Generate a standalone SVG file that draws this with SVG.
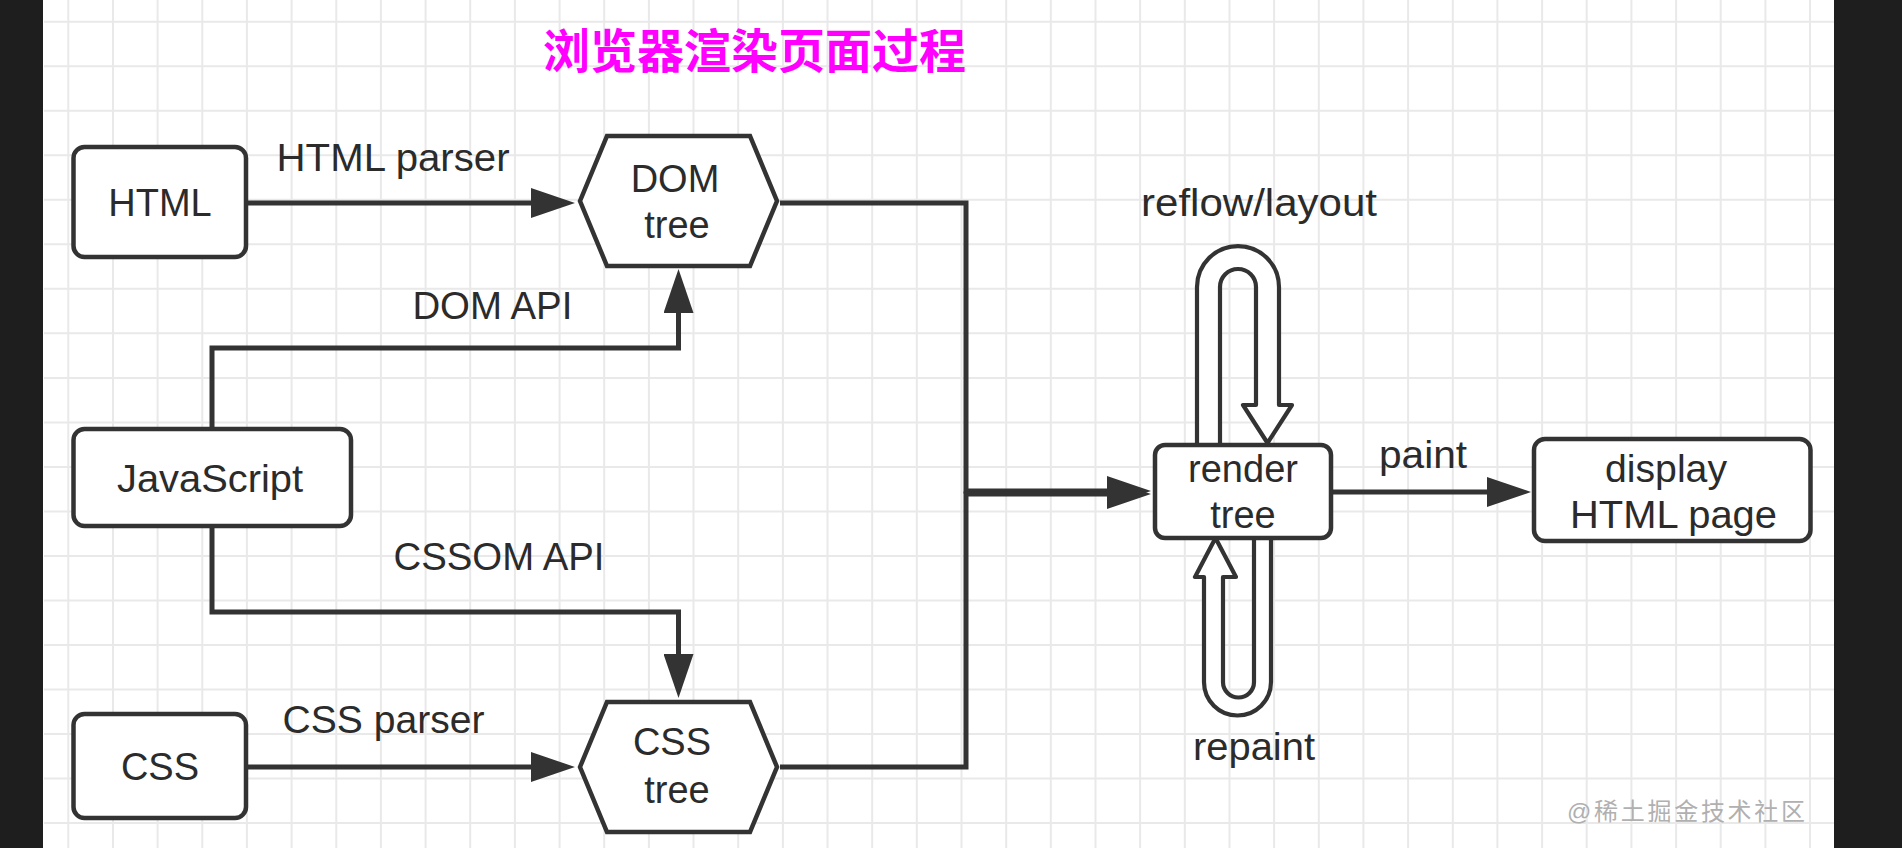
<svg xmlns="http://www.w3.org/2000/svg" width="1902" height="848" viewBox="0 0 1902 848">
<style>
.grid{stroke:#e9e9e9;stroke-width:2;fill:none}
.box{fill:#fff;stroke:#333;stroke-width:4.5}
.loop{fill:#fff;stroke:#333;stroke-width:4.2;stroke-linejoin:round}
.edge{fill:none;stroke:#333;stroke-width:5}
.t{font-family:"Liberation Sans",Arial,sans-serif;font-size:38px;fill:#2b2b2b}
.c{text-anchor:middle}
</style>
<defs>
<marker id="ah" markerUnits="userSpaceOnUse" viewBox="0 0 44 30" markerWidth="44" markerHeight="30" refX="0" refY="15" orient="auto">
<path d="M0,0 L44,15 L0,30 Z" fill="#333"/>
</marker>
</defs>
<rect x="0" y="0" width="1902" height="848" fill="#fff"/>
<path class="grid" d="M68.3 0V848M113 0V848M157.6 0V848M202.3 0V848M246.9 0V848M291.6 0V848M336.3 0V848M380.9 0V848M425.6 0V848M470.2 0V848M514.9 0V848M559.6 0V848M604.2 0V848M648.9 0V848M693.5 0V848M738.2 0V848M782.9 0V848M827.5 0V848M872.2 0V848M916.8 0V848M961.5 0V848M1006.2 0V848M1050.8 0V848M1095.5 0V848M1140.1 0V848M1184.8 0V848M1229.5 0V848M1274.1 0V848M1318.8 0V848M1363.4 0V848M1408.1 0V848M1452.8 0V848M1497.4 0V848M1542.1 0V848M1586.7 0V848M1631.4 0V848M1676.1 0V848M1720.7 0V848M1765.4 0V848M1810 0V848M44 21.7H1834M44 66.2H1834M44 110.7H1834M44 155.3H1834M44 199.8H1834M44 244.3H1834M44 288.8H1834M44 333.3H1834M44 377.9H1834M44 422.4H1834M44 466.9H1834M44 511.4H1834M44 555.9H1834M44 600.5H1834M44 645H1834M44 689.5H1834M44 734H1834M44 778.5H1834M44 823.1H1834"/>
<rect x="0" y="0" width="43" height="848" fill="#1e1e1e"/>
<rect x="1834" y="0" width="68" height="848" fill="#1e1e1e"/>

<text x="543" y="68" font-family="'Noto Sans CJK SC',sans-serif" font-size="47" font-weight="bold" fill="#ff00ff">浏览器渲染页面过程</text>

<g id="connectors">
<path class="edge" d="M248 203H531" marker-end="url(#ah)"/>
<path class="edge" d="M212 427V348H678.5V313" marker-end="url(#ah)"/>
<path class="edge" d="M212 528V612H678.5V654" marker-end="url(#ah)"/>
<path class="edge" d="M246 767H531" marker-end="url(#ah)"/>
<path class="edge" d="M780 203H966V491H1107" marker-end="url(#ah)"/>
<path class="edge" d="M780 767H966V494H1107" marker-end="url(#ah)"/>
<path class="edge" d="M1333 492H1487" marker-end="url(#ah)"/>
<path id="reflow" class="loop" d="M1197 445V287A41 41 0 0 1 1279 287V405H1292L1267.5 443L1243 405H1256V287A18 18 0 0 0 1220 287V445Z"/>
<path id="repaint" class="loop" d="M1254 538V682A15.5 15.5 0 0 1 1223 682V577H1236L1215.5 538L1195 577H1204V682A33.5 33.5 0 0 0 1271 682V538Z"/>
<text class="t" x="276.6" y="171" textLength="233" lengthAdjust="spacingAndGlyphs">HTML parser</text>
<text class="t" x="412.4" y="319" textLength="160" lengthAdjust="spacingAndGlyphs">DOM API</text>
<text class="t" x="393.5" y="570" textLength="211" lengthAdjust="spacingAndGlyphs">CSSOM API</text>
<text class="t" x="282.5" y="733" textLength="202" lengthAdjust="spacingAndGlyphs">CSS parser</text>
<text class="t" x="1141" y="216" textLength="236" lengthAdjust="spacingAndGlyphs">reflow/layout</text>
<text class="t" x="1379" y="468" textLength="88" lengthAdjust="spacingAndGlyphs">paint</text>
<text class="t" x="1193" y="760" textLength="122" lengthAdjust="spacingAndGlyphs">repaint</text>
</g>

<g id="html">
<rect class="box" x="73.5" y="147" width="172.5" height="110" rx="11"/>
<text class="t c" x="160" y="216">HTML</text>
</g>
<g id="dom-tree">
<path class="box" d="M580 201L607 136H750L777 201L750 266H607Z"/>
<text class="t c" x="675" y="192">DOM</text>
<text class="t c" x="677" y="238">tree</text>
</g>
<g id="javascript">
<rect class="box" x="73.5" y="429" width="277.5" height="97" rx="11"/>
<text class="t" x="117" y="492" textLength="186" lengthAdjust="spacingAndGlyphs">JavaScript</text>
</g>
<g id="css">
<rect class="box" x="73.5" y="714" width="172.5" height="104" rx="11"/>
<text class="t c" x="160" y="780">CSS</text>
</g>
<g id="css-tree">
<path class="box" d="M580 767L607 702H750L777 767L750 832H607Z"/>
<text class="t c" x="672" y="755">CSS</text>
<text class="t c" x="677" y="803">tree</text>
</g>
<g id="render-tree">
<rect class="box" x="1155" y="445" width="176" height="93" rx="10"/>
<text class="t c" x="1243" y="482">render</text>
<text class="t c" x="1243" y="528">tree</text>
</g>
<g id="display">
<rect class="box" x="1534" y="439" width="276.5" height="102" rx="11"/>
<text class="t" x="1605" y="482" textLength="122" lengthAdjust="spacingAndGlyphs">display</text>
<text class="t" x="1570" y="528" textLength="207" lengthAdjust="spacingAndGlyphs">HTML page</text>
</g>

<text x="1567" y="820" font-family="'Liberation Sans','Noto Sans CJK SC',sans-serif" font-size="24" fill="#b0b0b0" textLength="238" lengthAdjust="spacing">@稀土掘金技术社区</text>
</svg>
